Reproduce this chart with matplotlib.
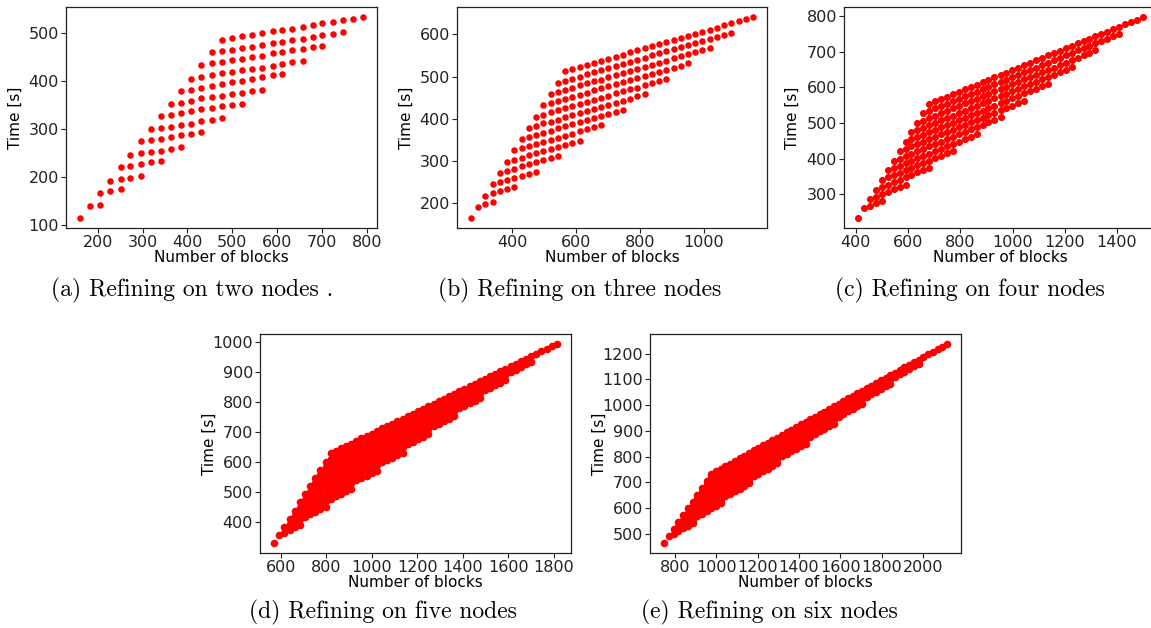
import matplotlib
matplotlib.use('Agg')
import matplotlib.pyplot as plt

# column positions (number of blocks) and rows of timings; row k starts at column k
cols_a = [161, 182, 206, 228, 251, 273, 296, 319, 341, 363, 386, 409, 431, 454, 476,
          499, 521, 544, 566, 590, 611, 633, 657, 680, 701, 724, 746, 769, 791]
rows_a = [
    [114],
    [139, 142],
    [167, 171, 174],
    [192, 196, 198.5, 202],
    [221, 223, 227, 231, 233],
    [245, 249, 252, 255, 259, 262.5],
    [274, 278, 280, 284, 287.5, 290, 294],
    [299, 303, 305, 309, 311, 317, 319, 322],
    [327, 330, 334, 337, 341, 344, 347, 351, 353],
    [352, 355, 358, 364, 366, 369, 373.5, 376, 379, 382.5],
    [380, 382, 385, 390, 394, 398, 401, 404, 408, 412, 414],
    [405, 409, 412.5, 416, 419, 424, 426, 428, 432, 435, 439, 443],
    [433, 437.5, 441, 445, 446.5, 451, 453, 458, 461, 465, 467, 471, 474],
    [460, 462.5, 465, 469, 472, 476, 479, 482.5, 485, 489, 492, 496.5, 498.5, 502],
    [487, 490, 494, 497, 501, 505, 507, 510, 513, 517, 521, 523, 527, 530, 534],
]

cols_b = [270, 293, 315, 338, 361, 384, 406, 429, 452, 474, 497, 520, 542, 565, 588,
          611, 633, 656, 679, 701, 724, 747, 769, 792, 815, 838, 860, 883, 906, 928,
          951, 974, 996, 1019, 1042, 1065, 1087, 1110, 1133, 1155]
rows_b = [
    [165],
    [192, 197, 202],
    [218, 223, 228, 233, 238],
    [245, 250, 255, 260, 265, 270, 275],
    [272, 277, 282, 287, 292, 297, 302, 307, 311],
    [298, 303, 308, 313, 318, 323, 328, 333, 338, 343, 348],
    [325, 330, 335, 340, 345, 350, 355, 360, 365, 370, 375, 380, 385],
    [352, 357, 362, 367, 372, 377, 382, 387, 392, 397, 401, 406, 411, 416, 421],
    [379, 384, 389, 393, 398, 403, 408, 413, 418, 423, 428, 433, 438, 443, 448, 453, 458],
    [405, 410, 415, 420, 425, 430, 435, 440, 445, 450, 455, 460, 465, 470, 474, 479, 484,
     489, 494],
    [432, 437, 442, 447, 452, 457, 462, 467, 472, 477, 482, 486, 491, 496, 501, 506, 511,
     516, 521, 526, 531],
    [459, 464, 469, 474, 479, 484, 489, 493, 498, 503, 508, 513, 518, 523, 528, 533, 538,
     543, 548, 553, 558, 563, 568],
    [485, 490, 495, 500, 505, 510, 515, 520, 525, 530, 535, 540, 545, 550, 555, 560, 565,
     570, 574, 579, 584, 589, 594, 599, 604],
    [512, 517, 522, 527, 532, 537, 542, 547, 552, 557, 562, 567, 572, 576, 581, 586, 591,
     596, 601, 606, 611, 616, 621, 626, 631, 636, 641],
]

cols_c = [409, 432, 454, 477, 500, 522, 545, 568, 591, 613, 636, 659, 681, 704, 727,
          750, 772, 795, 818, 840, 863, 886, 908, 931, 954, 976, 999, 1022, 1045, 1067,
          1090, 1113, 1135, 1158, 1181, 1203, 1226, 1249, 1272, 1294, 1317, 1340, 1362,
          1385, 1408, 1430, 1453, 1476, 1499]
rows_c = [
    [233],
    [260, 267, 274, 280],
    [286, 293, 300, 307, 314, 320, 327],
    [313, 320, 327, 334, 340, 347, 354, 361, 367, 374],
    [340, 347, 354, 360, 367, 374, 381, 387, 394, 401, 408, 415, 421],
    [367, 374, 380, 387, 394, 401, 407, 414, 421, 428, 435, 441, 448, 455, 462, 468],
    [394, 400, 407, 414, 421, 427, 434, 441, 448, 455, 461, 468, 475, 482, 488, 495, 502,
     509, 516],
    [420, 427, 434, 441, 447, 454, 461, 468, 474, 481, 488, 495, 502, 508, 515, 522, 529,
     536, 542, 549, 556, 563],
    [447, 454, 461, 467, 474, 481, 488, 494, 501, 508, 515, 522, 528, 535, 542, 549, 555,
     562, 569, 576, 583, 589, 596, 603, 610],
    [474, 481, 487, 494, 501, 508, 514, 521, 528, 535, 542, 548, 555, 562, 569, 575, 582,
     589, 596, 603, 609, 616, 623, 630, 636, 643, 650, 657],
    [501, 507, 514, 521, 528, 534, 541, 548, 555, 562, 568, 575, 582, 589, 595, 602, 609,
     616, 623, 629, 636, 643, 650, 656, 663, 670, 677, 684, 690, 697, 704],
    [527, 534, 541, 548, 554, 561, 568, 575, 581, 588, 595, 602, 609, 615, 622, 629, 636,
     643, 649, 656, 663, 670, 676, 683, 690, 697, 704, 710, 717, 724, 731, 737, 744, 751],
    [554, 561, 568, 574, 581, 588, 595, 601, 608, 615, 622, 629, 635, 642, 649, 656, 662,
     669, 676, 683, 690, 696, 703, 710, 717, 724, 730, 737, 744, 751, 757, 764, 771, 778,
     785, 791, 798],
]

cols_d = [571, 594, 616, 639, 661, 684, 707, 729, 752, 774, 797, 820, 842, 865, 887,
          910, 933, 955, 978, 1000, 1023, 1046, 1068, 1091, 1113, 1136, 1159, 1181, 1204,
          1226, 1249, 1272, 1294, 1317, 1339, 1362, 1385, 1407, 1430, 1452, 1475, 1498,
          1520, 1543, 1565, 1588, 1611, 1633, 1656, 1678, 1701, 1724, 1746, 1769, 1791, 1814]
rows_d = [
    [330],
    [357, 365, 374, 382, 390],
    [384, 392, 401, 409, 417, 426, 434, 442, 450],
    [411, 420, 428, 436, 444, 453, 461, 469, 477, 486, 494, 502, 511],
    [438, 447, 455, 463, 471, 480, 488, 496, 505, 513, 521, 529, 538, 546, 554, 562, 571],
    [466, 474, 482, 490, 499, 507, 515, 523, 532, 540, 548, 556, 565, 573, 581, 590, 598,
     606, 614, 623, 631],
    [493, 501, 509, 517, 526, 534, 542, 550, 559, 567, 575, 584, 592, 600, 608, 617, 625,
     633, 641, 650, 658, 666, 675, 683, 691],
    [520, 528, 536, 545, 553, 561, 569, 578, 586, 594, 602, 611, 619, 627, 635, 644, 652,
     660, 669, 677, 685, 693, 702, 710, 718, 726, 735, 743, 751],
    [547, 555, 563, 572, 580, 588, 596, 605, 613, 621, 630, 638, 646, 654, 663, 671, 679,
     687, 696, 704, 712, 720, 729, 737, 745, 754, 762, 770, 778, 787, 795, 803, 811],
    [574, 582, 590, 599, 607, 615, 624, 632, 640, 648, 657, 665, 673, 681, 690, 698, 706,
     714, 723, 731, 739, 748, 756, 764, 772, 781, 789, 797, 805, 814, 822, 830, 839, 847,
     855, 863, 872],
    [601, 609, 618, 626, 634, 642, 651, 659, 667, 675, 684, 692, 700, 709, 717, 725, 733,
     742, 750, 758, 766, 775, 783, 791, 799, 808, 816, 824, 833, 841, 849, 857, 866, 874,
     882, 890, 899, 907, 915, 924, 932],
    [628, 636, 645, 653, 661, 669, 678, 686, 694, 703, 711, 719, 727, 736, 744, 752, 760,
     769, 777, 785, 794, 802, 810, 818, 827, 835, 843, 851, 860, 868, 876, 884, 893, 901,
     909, 918, 926, 934, 942, 951, 959, 967, 975, 984, 992],
]

cols_e = [749, 772, 795, 817, 840, 863, 886, 908, 931, 954, 977, 999, 1022, 1045, 1068,
          1090, 1113, 1136, 1159, 1181, 1204, 1227, 1250, 1272, 1295, 1318, 1341, 1363,
          1386, 1409, 1432, 1454, 1477, 1500, 1523, 1545, 1568, 1591, 1614, 1636, 1659,
          1682, 1705, 1727, 1750, 1773, 1796, 1818, 1841, 1864, 1887, 1909, 1932, 1955,
          1978, 2000, 2023, 2046, 2069, 2091, 2114]
rows_e = [
    [464],
    [491, 501, 511, 521, 531, 541],
    [518, 528, 538, 548, 558, 568, 578, 588, 599, 609, 619],
    [545, 555, 565, 575, 585, 595, 605, 615, 626, 636, 646, 656, 666, 676, 686, 696],
    [572, 582, 592, 602, 612, 622, 632, 642, 652, 663, 673, 683, 693, 703, 713, 723, 733,
     743, 753, 764, 774],
    [599, 609, 619, 629, 639, 649, 659, 669, 679, 689, 700, 710, 720, 730, 740, 750, 760,
     770, 780, 790, 801, 811, 821, 831, 841, 851],
    [625, 636, 646, 656, 666, 676, 686, 696, 706, 716, 726, 737, 747, 757, 767, 777, 787,
     797, 807, 817, 827, 838, 848, 858, 868, 878, 888, 898, 908, 918, 928],
    [652, 662, 673, 683, 693, 703, 713, 723, 733, 743, 753, 763, 774, 784, 794, 804, 814,
     824, 834, 844, 854, 864, 875, 885, 895, 905, 915, 925, 935, 945, 955, 965, 976, 986,
     996, 1006],
    [679, 689, 699, 710, 720, 730, 740, 750, 760, 770, 780, 790, 800, 811, 821, 831, 841,
     851, 861, 871, 881, 891, 901, 912, 922, 932, 942, 952, 962, 972, 982, 992, 1002, 1013,
     1023, 1033, 1043, 1053, 1063, 1073, 1083],
    [706, 716, 726, 736, 747, 757, 767, 777, 787, 797, 807, 817, 827, 837, 848, 858, 868,
     878, 888, 898, 908, 918, 928, 938, 949, 959, 969, 979, 989, 999, 1009, 1019, 1029,
     1039, 1050, 1060, 1070, 1080, 1090, 1100, 1110, 1120, 1130, 1140, 1151, 1161],
    [733, 743, 753, 763, 773, 784, 794, 804, 814, 824, 834, 844, 854, 864, 874, 885, 895,
     905, 915, 925, 935, 945, 955, 965, 975, 986, 996, 1006, 1016, 1026, 1036, 1046, 1056,
     1066, 1076, 1087, 1097, 1107, 1117, 1127, 1137, 1147, 1157, 1167, 1177, 1188, 1198,
     1208, 1218, 1228, 1238],
]

xticks_a = [200, 300, 400, 500, 600, 700, 800]
yticks_a = [100, 200, 300, 400, 500]
xticks_b = [400, 600, 800, 1000]
yticks_b = [200, 300, 400, 500, 600]
xticks_c = [400, 600, 800, 1000, 1200, 1400]
yticks_c = [300, 400, 500, 600, 700, 800]
xticks_d = [600, 800, 1000, 1200, 1400, 1600, 1800]
yticks_d = [400, 500, 600, 700, 800, 900, 1000]
xticks_e = [800, 1000, 1200, 1400, 1600, 1800, 2000]
yticks_e = [500, 600, 700, 800, 900, 1000, 1100, 1200]

captions = ['(a) Refining on two nodes .', '(b) Refining on three nodes',
            '(c) Refining on four nodes', '(d) Refining on five nodes',
            '(e) Refining on six nodes']

W, H = 1151, 628
fig = plt.figure(figsize=(W / 100, H / 100), dpi=100)


def px_axes(left, right, top, bottom):
    return fig.add_axes([left / W, 1 - bottom / H, (right - left) / W, (bottom - top) / H])


panels = [
    (px_axes(66, 377, 7, 228), cols_a, rows_a, xticks_a, yticks_a, 22),
    (px_axes(457, 767, 7, 228), cols_b, rows_b, xticks_b, yticks_b, 22),
    (px_axes(844, 1157, 7, 228), cols_c, rows_c, xticks_c, yticks_c, 26),
    (px_axes(260, 571, 334, 553), cols_d, rows_d, xticks_d, yticks_d, 30),
    (px_axes(650, 961, 334, 553), cols_e, rows_e, xticks_e, yticks_e, 30),
]

for ax, cols, rows, xt, yt, size in panels:
    xs, ys = [], []
    for k, row in enumerate(rows):
        for x, y in zip(cols[k:], row):
            xs.append(x)
            ys.append(y)
    ax.scatter(xs, ys, s=size, c='#ff0000', linewidths=0)
    ax.set_xticks(xt)
    ax.set_yticks(yt)
    ax.tick_params(labelsize=11.5, length=3.5, width=0.8, pad=1.5, colors='#222222')
    for sp in ax.spines.values():
        sp.set_linewidth(0.9)
        sp.set_color('#222222')
    ax.set_xlabel('Number of blocks', fontsize=11)
    ax.set_ylabel('Time [s]', fontsize=11)
    ax.xaxis.set_label_coords(0.5, -0.1)
    ax.yaxis.set_label_coords(-0.14, 0.5)

cap_pos = [(192, 290), (580, 290), (970, 290), (383, 612), (769, 612)]
for (cx, cy), txt in zip(cap_pos, captions):
    fig.text(cx / W, 1 - cy / H, txt, fontfamily='cmr10', fontsize=17,
             ha='center', va='center')

fig.savefig('out.png', dpi=100)
